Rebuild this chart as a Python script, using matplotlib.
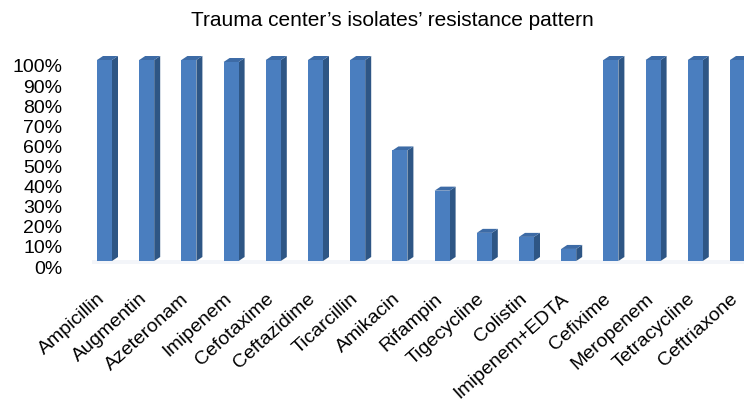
import matplotlib
matplotlib.use("Agg")
import matplotlib.pyplot as plt
import matplotlib.transforms as mtransforms
import numpy as np

categories = ["Ampicillin", "Augmentin", "Azeteronam", "Imipenem", "Cefotaxime",
              "Ceftazidime", "Ticarcillin", "Amikacin", "Rifampin", "Tigecycline",
              "Colistin", "Imipenem+EDTA", "Cefixime", "Meropenem", "Tetracycline",
              "Ceftriaxone"]
resistance = [100, 100, 100, 99, 100, 100, 100, 55, 35, 14, 12, 6, 100, 100, 100, 100]
ytick_values = list(range(0, 101, 10))
ytick_labels = [f"{v}%" for v in ytick_values]
title = "Trauma center\u2019s isolates\u2019 resistance pattern"

plt.rcParams['font.family'] = ['Liberation Sans', 'DejaVu Sans']

W, H = 744, 405
fig = plt.figure(figsize=(W / 100, H / 100), dpi=100)

# axes geometry in pixels
px_per_unit_x = 42.2
x0_center = 104.5
ax_left_px = 79.2
ax_right_px = 744
xlim = ((ax_left_px - x0_center) / px_per_unit_x, (ax_right_px - x0_center) / px_per_unit_x)
zero_px, hundred_px = 261, 60
px_per_unit_y = (zero_px - hundred_px) / 100
ax_top_px, ax_bot_px = 40, 275
ylim = (-(ax_bot_px - zero_px) / px_per_unit_y, 100 + (hundred_px - ax_top_px) / px_per_unit_y)

ax = fig.add_axes([ax_left_px / W, (H - ax_bot_px) / H,
                   (ax_right_px - ax_left_px) / W, (ax_bot_px - ax_top_px) / H])
ax.set_xlim(*xlim)
ax.set_ylim(*ylim)

front_w = 15 / px_per_unit_x
dx = 6 / px_per_unit_x
dy = 4 / px_per_unit_y
front_c = "#4A7EBF"
side_c = "#2E5685"
top_c = "#3D6BA6"

x = np.arange(len(categories))
# faint floor
ax.fill_between([xlim[0] + 0.3, xlim[1]], [-1.5, -1.5], [0.3, 0.3], color="#F3F5F9", lw=0, zorder=0)
ax.bar(x, resistance, width=front_w, color=front_c, edgecolor="none", zorder=3)
for xi, v in zip(x, resistance):
    xl = xi - front_w / 2
    xr = xi + front_w / 2
    ax.fill([xr, xr + dx, xr + dx, xr], [0, dy, v + dy, v], color=side_c, lw=0, zorder=2)
    ax.fill([xl, xl + dx, xr + dx, xr], [v, v + dy, v + dy, v], color=top_c, lw=0, zorder=2)

for s in ax.spines.values():
    s.set_visible(False)

ax.set_yticks(ytick_values)
ax.set_yticklabels(ytick_labels, fontsize=14)
ax.tick_params(axis='y', length=0, pad=12)
off = mtransforms.ScaledTranslation(0, -6 / 100, fig.dpi_scale_trans)
for lab in ax.get_yticklabels():
    lab.set_transform(lab.get_transform() + off)

ax.set_xticks(x)
ax.set_xticklabels(categories, fontsize=14, rotation=42, ha='right', va='top',
                   rotation_mode='anchor')
ax.tick_params(axis='x', length=0, pad=11)
offx = mtransforms.ScaledTranslation(-8 / 100, 0, fig.dpi_scale_trans)
for lab in ax.get_xticklabels():
    lab.set_transform(lab.get_transform() + offx)

fig.text(392 / W, 1 - 21 / H, title, fontsize=15, ha='center', va='center')

fig.savefig("out.png", dpi=100)
